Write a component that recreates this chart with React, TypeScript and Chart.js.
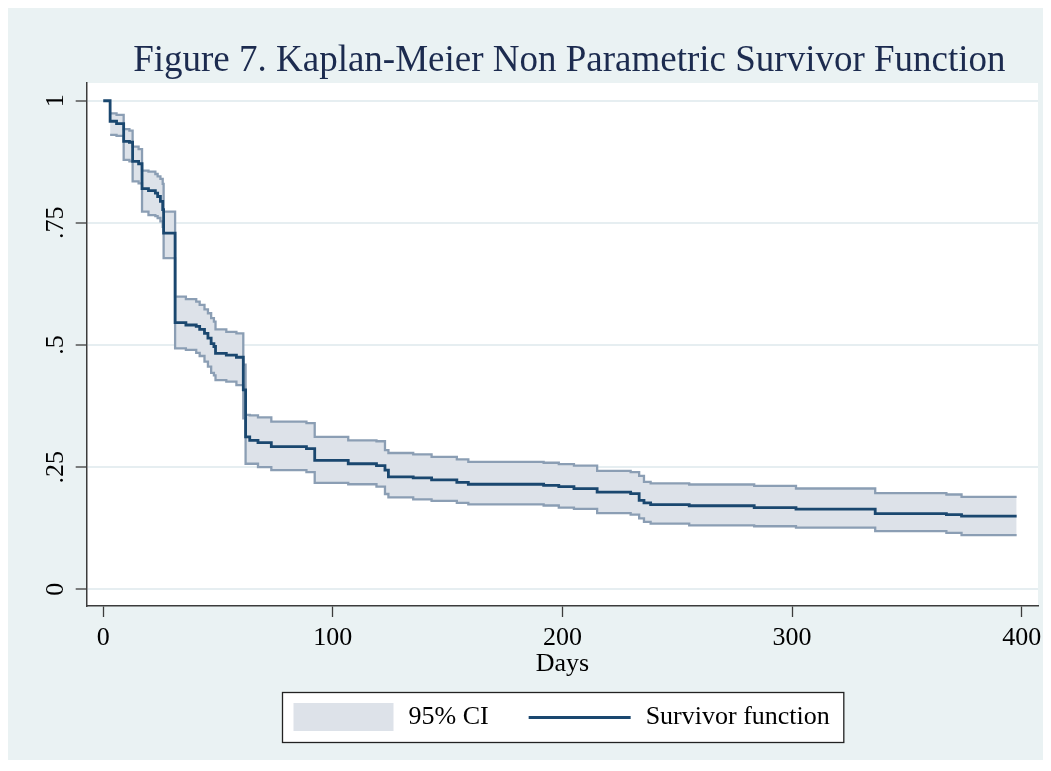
import React, { useEffect, useRef } from 'react';
import { Chart, registerables } from 'chart.js';

Chart.register(...registerables);

// ---- data ----
const days = [0, 3, 5.8, 8.9, 11.4, 12.8, 15.4, 16.9, 19.7, 22.7, 23.7, 24.9, 25.9, 26.3, 31.3, 36, 40.5, 42, 44.1, 45.6, 47, 48.2, 48.9, 53.6, 58, 61, 62, 63.8, 67.4, 73.2, 88.5, 92.1, 106.7, 119, 122.7, 124.2, 135, 143, 154, 159, 191.8, 198.4, 205, 215.1, 229.7, 233.4, 235.5, 238.4, 255.2, 283.5, 301.7, 336.2, 367.2, 373.8, 397.8];

const survival = [1, 0.958, 0.953, 0.917, 0.915, 0.876, 0.871, 0.82, 0.816, 0.811, 0.804, 0.794, 0.777, 0.729, 0.546, 0.541, 0.538, 0.532, 0.524, 0.514, 0.503, 0.497, 0.483, 0.4795, 0.475, 0.408, 0.312, 0.305, 0.3, 0.292, 0.288, 0.264, 0.257, 0.253, 0.244, 0.23, 0.228, 0.224, 0.219, 0.215, 0.2125, 0.21, 0.206, 0.199, 0.196, 0.182, 0.177, 0.1735, 0.171, 0.167, 0.164, 0.155, 0.153, 0.1496, 0.1496];

const ciUpper = [null, 0.974, 0.971, 0.942, 0.939, 0.906, 0.901, 0.857, 0.855, 0.85, 0.845, 0.84, 0.83, 0.773, 0.599, 0.594, 0.589, 0.582, 0.573, 0.565, 0.555, 0.548, 0.532, 0.527, 0.524, 0.46, 0.357, 0.356, 0.352, 0.343, 0.34, 0.312, 0.305, 0.303, 0.285, 0.279, 0.276, 0.271, 0.266, 0.261, 0.259, 0.256, 0.253, 0.2425, 0.24, 0.232, 0.22, 0.2166, 0.2145, 0.2117, 0.2063, 0.197, 0.194, 0.189, 0.189];

const ciLower = [null, 0.93, 0.928, 0.879, 0.876, 0.835, 0.831, 0.773, 0.766, 0.764, 0.76, 0.753, 0.742, 0.678, 0.493, 0.49, 0.484, 0.4775, 0.466, 0.4556, 0.443, 0.438, 0.428, 0.425, 0.418, 0.35, 0.257, 0.257, 0.25, 0.244, 0.24, 0.218, 0.215, 0.21, 0.195, 0.188, 0.184, 0.181, 0.177, 0.174, 0.1715, 0.167, 0.1646, 0.156, 0.153, 0.145, 0.138, 0.1346, 0.131, 0.129, 0.1264, 0.119, 0.1154, 0.1107, 0.1107];

const xTickValues = [0, 100, 200, 300, 400];
const xTickLabels = ['0', '100', '200', '300', '400'];
const yTickValues = [0, 0.25, 0.5, 0.75, 1];
const yTickLabels = ['0', '.25', '.5', '.75', '1'];
const legendLabels = ['95% CI', 'Survivor function'];
const titleText = 'Figure 7. Kaplan-Meier Non Parametric Survivor Function';
const xTitle = 'Days';

// ---- styles ----
const SERIF = '"Liberation Serif", "Times New Roman", Times, serif';
const BG = '#EAF2F3';
const NAVY = '#1a476f';
const CI_LINE = '#8b9eb4';
const CI_FILL = '#dde2e9';
const AXIS = '#3c3c3c';
const GRID = '#e6eef1';

const W = 1039;
const H = 760;

const bgPlugin = {
  id: 'stataBg',
  afterLayout(chart: any) {
    // Stata centres the title slightly right of the plot-region centre
    if (chart.titleBlock) {
      chart.titleBlock.left += 7;
      chart.titleBlock.right += 7;
    }
  },
  beforeDraw(chart: any) {
    const { ctx, chartArea: a, width, height } = chart;
    ctx.save();
    ctx.fillStyle = BG;
    ctx.fillRect(0, 0, width, height);
    ctx.fillStyle = '#ffffff';
    ctx.fillRect(a.left, a.top, a.right - a.left, a.bottom - a.top);
    ctx.restore();
  },
};

const legendPlugin = {
  id: 'stataLegend',
  afterDraw(chart: any) {
    const { ctx, chartArea: a } = chart;
    const xs = chart.scales.x;
    ctx.save();
    ctx.font = `26px ${SERIF}`;
    const w1 = ctx.measureText(legendLabels[0]).width;
    const w2 = ctx.measureText(legendLabels[1]).width;
    const padL = 11, sw = 100, gap = 15, itemGap = 40, lineLen = 102, padR = 14;
    const total = padL + sw + gap + w1 + itemGap + lineLen + gap + w2 + padR;
    const cx = (a.left + a.right) / 2;
    const left = Math.round(cx - total / 2) + 0.5;
    const top = Math.round(xs.bottom + 15) + 0.5;
    const h = 50;
    const cy = top + 25;
    ctx.fillStyle = '#ffffff';
    ctx.fillRect(left, top, total, h);
    ctx.strokeStyle = '#222222';
    ctx.lineWidth = 1.3;
    ctx.strokeRect(left, top, total, h);
    let x = left + padL;
    ctx.fillStyle = CI_FILL;
    ctx.fillRect(x, top + 10.5, sw, 28);
    x += sw + gap;
    ctx.fillStyle = '#000000';
    ctx.textAlign = 'left';
    ctx.textBaseline = 'middle';
    ctx.fillText(legendLabels[0], x, cy);
    x += w1 + itemGap;
    ctx.strokeStyle = NAVY;
    ctx.lineWidth = 2.8;
    ctx.beginPath();
    ctx.moveTo(x, cy);
    ctx.lineTo(x + lineLen, cy);
    ctx.stroke();
    x += lineLen + gap;
    ctx.fillText(legendLabels[1], x, cy);
    ctx.restore();
  },
};

export default function App() {
  const ref = useRef<HTMLCanvasElement>(null);

  useEffect(() => {
    const canvas = ref.current;
    if (!canvas) return;
    const upperPts = days.map((d, i) => ({ x: d, y: ciUpper[i] }));
    const lowerPts = days.map((d, i) => ({ x: d, y: ciLower[i] }));
    const survPts = days.map((d, i) => ({ x: d, y: survival[i] }));

    const chart = new Chart(canvas, {
      type: 'line',
      data: {
        datasets: [
          {
            label: legendLabels[0],
            data: upperPts as any,
            stepped: 'before',
            borderColor: CI_LINE,
            borderWidth: 2.3,
            backgroundColor: CI_FILL,
            fill: '+1',
            pointRadius: 0,
            order: 2,
          },
          {
            label: legendLabels[0] + ' lower',
            data: lowerPts as any,
            stepped: 'before',
            borderColor: CI_LINE,
            borderWidth: 2.3,
            fill: false,
            pointRadius: 0,
            order: 1,
          },
          {
            label: legendLabels[1],
            data: survPts as any,
            stepped: 'before',
            borderColor: NAVY,
            borderWidth: 2.8,
            fill: false,
            pointRadius: 0,
            order: 0,
          },
        ],
      },
      options: {
        responsive: false,
        animation: false,
        events: [],
        layout: { padding: { top: 0, left: 0, right: 9, bottom: 91 } },
        plugins: {
          legend: { display: false },
          tooltip: { enabled: false },
          title: {
            display: true,
            text: titleText,
            fullSize: false,
            color: '#1c2b4f',
            font: { family: SERIF, size: 37, weight: 'normal', lineHeight: 1.2 },
            padding: { top: 31.3, bottom: -0.7 },
          },
        },
        scales: {
          x: {
            type: 'linear',
            min: -7.2,
            max: 407.1,
            afterBuildTicks: (scale: any) => {
              scale.ticks = xTickValues.map((v) => ({ value: v }));
            },
            afterFit: (scale: any) => {
              scale.paddingLeft = 0;
              scale.paddingRight = 0;
            },
            ticks: {
              callback: (_v: any, i: number) => xTickLabels[i],
              color: '#000',
              font: { family: SERIF, size: 26, lineHeight: 1 },
              padding: 8.5,
              maxRotation: 0,
              minRotation: 0,
              autoSkip: false,
            },
            grid: {
              drawOnChartArea: false,
              drawTicks: true,
              tickLength: 11,
              tickColor: AXIS,
              tickWidth: 1.3,
            },
            border: { display: true, color: AXIS, width: 1.5 },
            title: {
              display: true,
              text: xTitle,
              color: '#000',
              font: { family: SERIF, size: 26, lineHeight: 1 },
              padding: { top: -9, bottom: 0 },
            },
          },
          y: {
            type: 'linear',
            min: -0.0342,
            max: 1.0363,
            afterBuildTicks: (scale: any) => {
              scale.ticks = yTickValues.map((v) => ({ value: v }));
            },
            afterFit: (scale: any) => {
              scale.width = 78.7;
              scale.paddingTop = 0;
              scale.paddingBottom = 0;
            },
            ticks: {
              callback: (_v: any, i: number) => yTickLabels[i],
              color: '#000',
              font: { family: SERIF, size: 26, lineHeight: 1 },
              padding: 3.5,
              minRotation: 90,
              maxRotation: 90,
              crossAlign: 'center',
              autoSkip: false,
            },
            grid: {
              color: GRID,
              lineWidth: 2,
              drawTicks: true,
              tickLength: 11,
              tickColor: AXIS,
              tickWidth: 1.3,
            },
            border: { display: true, color: AXIS, width: 1.5 },
          },
        },
      } as any,
      plugins: [bgPlugin, legendPlugin],
    });

    return () => chart.destroy();
  }, []);

  return (
    <div style={{ width: W, height: H, marginBottom: -8 }}>
      <canvas ref={ref} width={W} height={H} style={{ display: 'block', width: W, height: H }} />
    </div>
  );
}
